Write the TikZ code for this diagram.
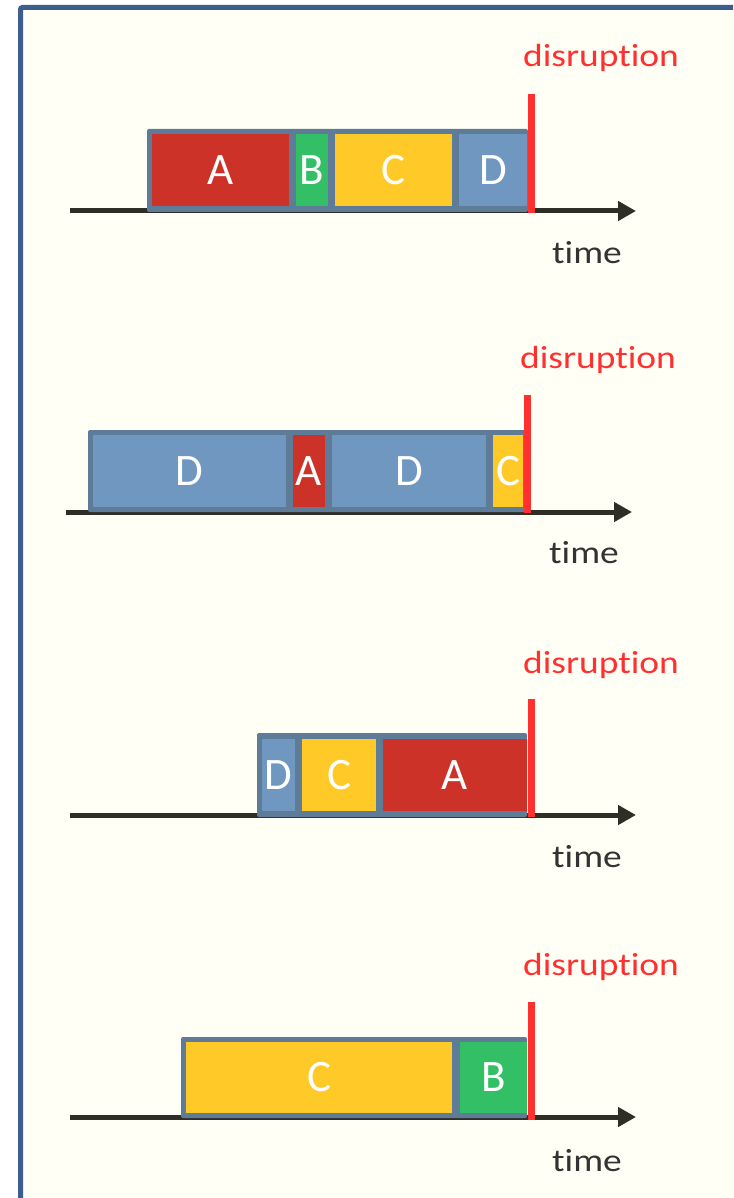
\documentclass[tikz,border=0pt]{standalone}
\usepackage{fontspec}
\usepackage{graphicx}
\setmainfont[RawFeature=-liga]{Carlito}
\usetikzlibrary{arrows.meta}
\definecolor{bgc}{HTML}{FFFFF5}
\definecolor{framec}{HTML}{3B5E8C}
\definecolor{contc}{HTML}{5E7C98}
\definecolor{redbox}{HTML}{CC3228}
\definecolor{greenbox}{HTML}{33BF66}
\definecolor{yellowbox}{HTML}{FFCA28}
\definecolor{bluebox}{HTML}{6F97BF}
\definecolor{disr}{HTML}{FF3030}
\definecolor{axisc}{HTML}{2E2E26}
\definecolor{timec}{HTML}{333333}
\newcommand{\wtxt}[1]{\scalebox{1.17}[1]{#1}}
\tikzset{
  container/.style={fill=contc, draw=none, rounded corners=2pt, inner sep=0pt, outer sep=0pt},
  blk/.style={draw=none, inner sep=0pt, outer sep=0pt, text=white, font=\fontsize{45}{50}\selectfont, minimum height=72pt},
  axisline/.style={draw=axisc, line width=5pt, -{Triangle[length=18pt,width=19pt]}},
  disrline/.style={draw=disr, line width=7pt},
  disrlabel/.style={text=disr, font=\fontsize{32}{38}\selectfont, inner sep=0pt, anchor=base},
  timelabel/.style={text=timec, font=\fontsize{32}{38}\selectfont, inner sep=0pt, anchor=base}
}
\begin{document}
\begin{tikzpicture}[x=1pt,y=-1pt]
\useasboundingbox (0,0) rectangle (733,1198);
\fill[white] (0,0) rectangle (733,1198);
\begin{scope}
\clip (0,0) rectangle (733,1198);
\draw[framec, fill=bgc, line width=5pt, rounded corners=2pt] (20.5,7.5) rectangle (760,1230);
\end{scope}

% ---------- timeline 1 ----------
\coordinate (a1s) at (70,211);
\coordinate (a1e) at (636,211);
\draw[axisline] (a1s) -- (a1e);
\node[container, minimum width=381pt, minimum height=83pt] (c1) at (337.5,170.5) {};
\node[blk, fill=redbox, minimum width=137pt] (t1a) at (220.5,170) {A};
\node[blk, fill=greenbox, minimum width=32pt] (t1b) at (312,170) {B};
\node[blk, fill=yellowbox, minimum width=117pt] (t1c) at (393.5,170) {C};
\node[blk, fill=bluebox, minimum width=68pt] (t1d) at (493,170) {D};
\coordinate (r1t) at (531,94);
\coordinate (r1b) at (531,213);
\draw[disrline] (r1t) -- (r1b);
\node[disrlabel] (d1) at (601,67) {\wtxt{disruption}};
\node[timelabel] (tm1) at (587,263) {\wtxt{time}};

% ---------- timeline 2 ----------
\coordinate (a2s) at (66,512);
\coordinate (a2e) at (632,512);
\draw[axisline] (a2s) -- (a2e);
\node[container, minimum width=439pt, minimum height=82pt] (c2) at (307.5,471) {};
\node[blk, fill=bluebox, minimum width=193pt] (t2d1) at (189.5,471) {D};
\node[blk, fill=redbox, minimum width=32pt] (t2a) at (309,471) {A};
\node[blk, fill=bluebox, minimum width=154pt] (t2d2) at (409,471) {D};
\node[blk, fill=yellowbox, minimum width=30pt] (t2c) at (508,471) {C};
\coordinate (r2t) at (527,395);
\coordinate (r2b) at (527,513);
\draw[disrline] (r2t) -- (r2b);
\node[disrlabel] (d2) at (598,368) {\wtxt{disruption}};
\node[timelabel] (tm2) at (584,563) {\wtxt{time}};

% ---------- timeline 3 ----------
\coordinate (a3s) at (70,815);
\coordinate (a3e) at (636,815);
\draw[axisline] (a3s) -- (a3e);
\node[container, minimum width=270pt, minimum height=84pt] (c3) at (392,775) {};
\node[blk, fill=bluebox, minimum width=33pt] (t3d) at (278.5,775) {D};
\node[blk, fill=yellowbox, minimum width=74pt] (t3c) at (339,775) {C};
\node[blk, fill=redbox, minimum width=144pt] (t3a) at (455,775) {A};
\coordinate (r3t) at (531,699);
\coordinate (r3b) at (531,817);
\draw[disrline] (r3t) -- (r3b);
\node[disrlabel] (d3) at (601,673) {\wtxt{disruption}};
\node[timelabel] (tm3) at (587,867) {\wtxt{time}};

% ---------- timeline 4 ----------
\coordinate (a4s) at (70,1117);
\coordinate (a4e) at (636,1117);
\draw[axisline] (a4s) -- (a4e);
\node[container, minimum width=346pt, minimum height=81pt] (c4) at (354,1077.5) {};
\node[blk, fill=yellowbox, minimum width=266pt, minimum height=71pt] (t4c) at (319,1077.5) {C};
\node[blk, fill=greenbox, minimum width=67pt, minimum height=71pt] (t4b) at (493.5,1077.5) {B};
\coordinate (r4t) at (531,1002);
\coordinate (r4b) at (531,1120);
\draw[disrline] (r4t) -- (r4b);
\node[disrlabel] (d4) at (601,975) {\wtxt{disruption}};
\node[timelabel] (tm4) at (587,1171) {\wtxt{time}};
\end{tikzpicture}
\end{document}
